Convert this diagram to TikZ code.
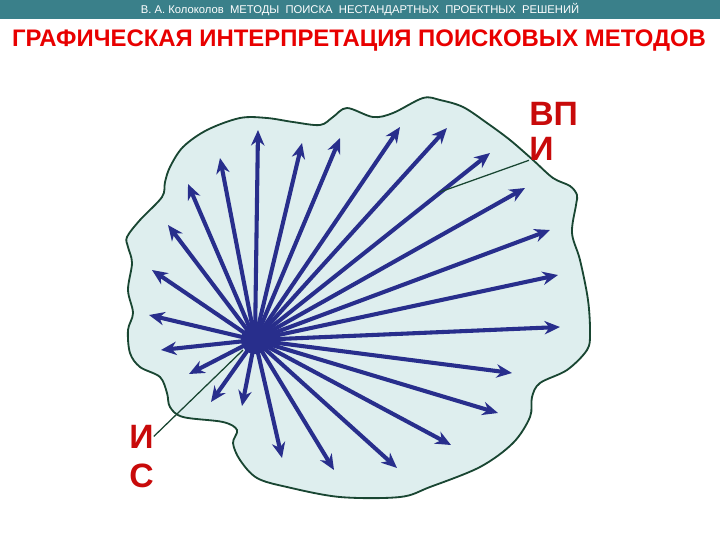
\documentclass[tikz,border=0pt]{standalone}
\usepackage{fontspec}
\setmainfont{Liberation Sans}
\usetikzlibrary{arrows.meta,calc}
\definecolor{barteal}{RGB}{58,128,138}
\definecolor{raybl}{RGB}{40,46,140}
\definecolor{blobfill}{RGB}{222,238,238}
\definecolor{blobline}{RGB}{25,70,50}
\definecolor{lblred}{RGB}{200,10,10}
\definecolor{titlered}{RGB}{232,0,0}
\tikzset{
	ray/.style={raybl, line width=2.9pt, -{Stealth[length=11pt,width=9.5pt,inset=3.5pt]}},
	lbl/.style={text=lblred, font=\fontsize{24}{24}\selectfont\bfseries, inner sep=0pt},
	lead/.style={blobline, line width=0.9pt},
}

\begin{document}
\begin{tikzpicture}[x=0.025cm, y=-0.025cm]
			%%%%% START %%%%%
			\useasboundingbox (0,0) rectangle (720,540);
			
			\fill[barteal] (0,0) rectangle (720,19);
			\node[white, font=\fontsize{8}{8}\selectfont] (head) at (360,10) {В. А. Колоколов\ \ МЕТОДЫ\ \ ПОИСКА\ \ НЕСТАНДАРТНЫХ\ \ ПРОЕКТНЫХ\ \ РЕШЕНИЙ};
			\node[text=titlered, font=\fontsize{17}{17}\selectfont\bfseries, anchor=base] (title) at (359,46) {ГРАФИЧЕСКАЯ ИНТЕРПРЕТАЦИЯ ПОИСКОВЫХ МЕТОДОВ};
			
			\draw[blobline, fill=blobfill, line width=1.3pt] plot[smooth cycle, tension=0.55] coordinates {
				(170,167) (165,182) (162,197) (140,220) (127,237) (128,247) (132,263) (128,290)
				(133,313) (128,330) (130,353) (140,367) (160,377) (167,393) (170,407) (183,417)
				(223,422) (237,430) (233,443) (240,460) (257,478) (287,487) (340,497) (400,497)
				(430,487) (480,467) (513,443) (530,417) (532,397) (540,383) (567,370) (587,350)
				(590,333) (588,300) (580,260) (572,233) (576,205) (577,195) (570,186) (553,178)
				(533,160) (510,140) (487,123) (463,107) (440,100) (423,98) (393,113) (373,117)
				(347,108) (333,117) (320,125) (293,122) (267,118) (240,118) (207,130) (183,147)};
			
			\coordinate (hub) at (255,340);
			
			\draw[ray] (hub) -- (161,350);
			\draw[ray] (hub) -- (189,374);
			\draw[ray] (hub) -- (211,402);
			\draw[ray] (hub) -- (242,406);
			\draw[ray] (hub) -- (282,458);
			\draw[ray] (hub) -- (334,470);
			\draw[ray] (hub) -- (397,468);
			\draw[ray] (hub) -- (451,445);
			\draw[ray] (hub) -- (498,413);
			\draw[ray] (hub) -- (512,373);
			\draw[ray] (hub) -- (560,327);
			\draw[ray] (hub) -- (558,275);
			\draw[ray] (hub) -- (550,230);
			\draw[ray] (hub) -- (525,188);
			\draw[ray] (hub) -- (490,153);
			\draw[ray] (hub) -- (447,128);
			\draw[ray] (hub) -- (400,127);
			\draw[ray] (hub) -- (340,138);
			\draw[ray] (hub) -- (302,143);
			\draw[ray] (hub) -- (258,130);
			\draw[ray] (hub) -- (220,158);
			\draw[ray] (hub) -- (188,184);
			\draw[ray] (hub) -- (168,225);
			\draw[ray] (hub) -- (152,270);
			\draw[ray] (hub) -- (149,315);
			\fill[raybl] (hub) circle (10pt);
			
			% labels with leaders
			\node[lbl, anchor=base west] (vp) at (529,125) {ВП};
			\node[lbl, anchor=base west] (vi) at (529,160) {И};
			\node[lbl, anchor=base west] (isi) at (129,448) {И};
			\node[lbl, anchor=base west] (iss) at (129,487) {С};
			
			\coordinate (vpfoot) at (440,192);
			\coordinate (isfoot) at (243,350);
			\draw[lead] (vpfoot) -- (vi.south west);
			\draw[lead] (isfoot) -- (isi.east);
			%%%%% END %%%%%
\end{tikzpicture}
\end{document}
